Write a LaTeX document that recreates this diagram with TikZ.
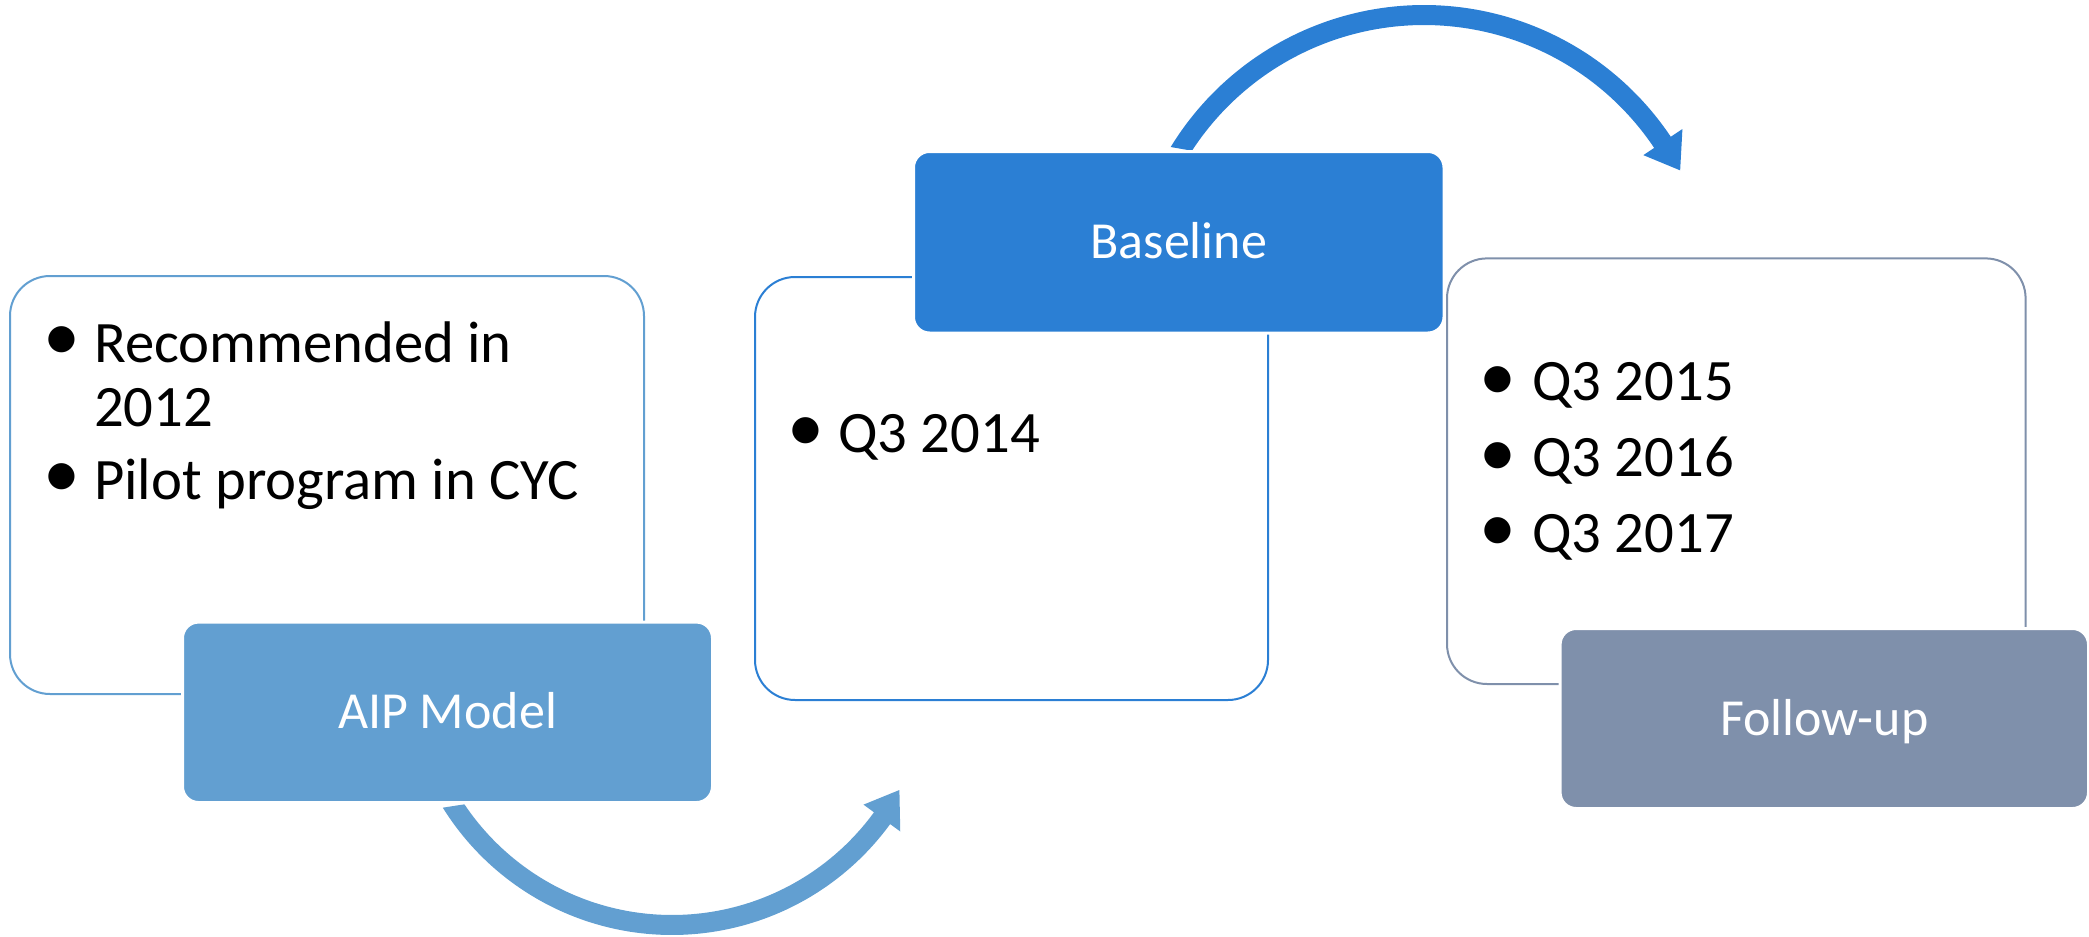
\documentclass[tikz,border=0pt]{standalone}
\usepackage{fontspec}
\setmainfont{Carlito}
\usetikzlibrary{calc}
\definecolor{aipblue}{HTML}{629FD1}
\definecolor{baseblue}{HTML}{2B7FD4}
\definecolor{followgrey}{HTML}{7F90AB}
\begin{document}
\begin{tikzpicture}[x=1pt,y=-1pt,
  panel/.style={rectangle, draw=#1, line width=2pt, fill=white, rounded corners=40pt, inner sep=0pt},
  tab/.style={rectangle, fill=#1, draw=white, line width=3pt, rounded corners=16pt, inner sep=0pt,
    text=white, font=\fontsize{52}{62}\selectfont, text height=33pt, text depth=0pt},
  item/.style={font=\fontsize{58.7}{70}\selectfont, anchor=base west, inner sep=0pt},
  dot/.style={font=\fontsize{74}{80}\selectfont, anchor=center, inner sep=0pt},
]
\useasboundingbox (0,0) rectangle (2089,937);

% curved arrow: AIP Model -> Baseline
\coordinate (arcB) at (672,665);
\begin{scope}[shift={(arcB)}]
  \fill[aipblue] (148.1:270)
    -- plot[domain=148.1:36.1, samples=90] ({270*cos(\x)},{270*sin(\x)})
    -- (36.1:282.5) -- (28.8:259.5) -- (36.1:237) -- (36.1:250)
    -- plot[domain=36.1:146.14, samples=90] ({250*cos(\x)},{250*sin(\x)})
    -- cycle;
\end{scope}

% curved arrow: Baseline -> Follow-up
\coordinate (arcA) at (1424,302);
\begin{scope}[shift={(arcA)}]
  \fill[baseblue] (-148.54:297)
    -- plot[domain=-148.54:-33.8, samples=90] ({297*cos(\x)},{297*sin(\x)})
    -- (-33.8:311) -- (-27.2:288) -- (-33.8:264) -- (-33.8:277)
    -- plot[domain=-33.8:-146.9, samples=90] ({277*cos(\x)},{277*sin(\x)})
    -- cycle;
\end{scope}

% stage 1
\node[panel=aipblue, minimum width=634pt, minimum height=418pt] (recbox) at (327,485) {};
\node[tab=aipblue, minimum width=530pt, minimum height=180.4pt] (aip) at (447.5,712.3) {AIP Model};
\node[dot] (b11) at (61.7,344) {•};
\node[item] (t11) at (94,362) {Recommended in};
\node[item] (t12) at (94,426) {2012};
\node[dot] (b12) at (61.7,481) {•};
\node[item] (t13) at (94,499) {Pilot program in CYC};

% stage 2
\node[panel=baseblue, minimum width=513pt, minimum height=423pt] (qbox) at (1011.5,488.5) {};
\node[tab=baseblue, minimum width=530.5pt, minimum height=181.5pt] (base) at (1178.75,242.25) {Baseline};
\node[dot] (b21) at (806,434.5) {•};
\node[item] (t21) at (838,452) {Q3 2014};

% stage 3
\node[panel=followgrey, minimum width=578.6pt, minimum height=425.6pt] (fbox) at (1736.3,471.2) {};
\node[tab=followgrey, minimum width=528.4pt, minimum height=180pt] (follow) at (1824.3,718.5) {Follow-up};
\node[dot] (b31) at (1497.8,383.7) {•};
\node[item] (t31) at (1532,400.7) {Q3 2015};
\node[dot] (b32) at (1497.8,459.5) {•};
\node[item] (t32) at (1532,476.5) {Q3 2016};
\node[dot] (b33) at (1497.8,535) {•};
\node[item] (t33) at (1532,552) {Q3 2017};
\end{tikzpicture}
\end{document}
